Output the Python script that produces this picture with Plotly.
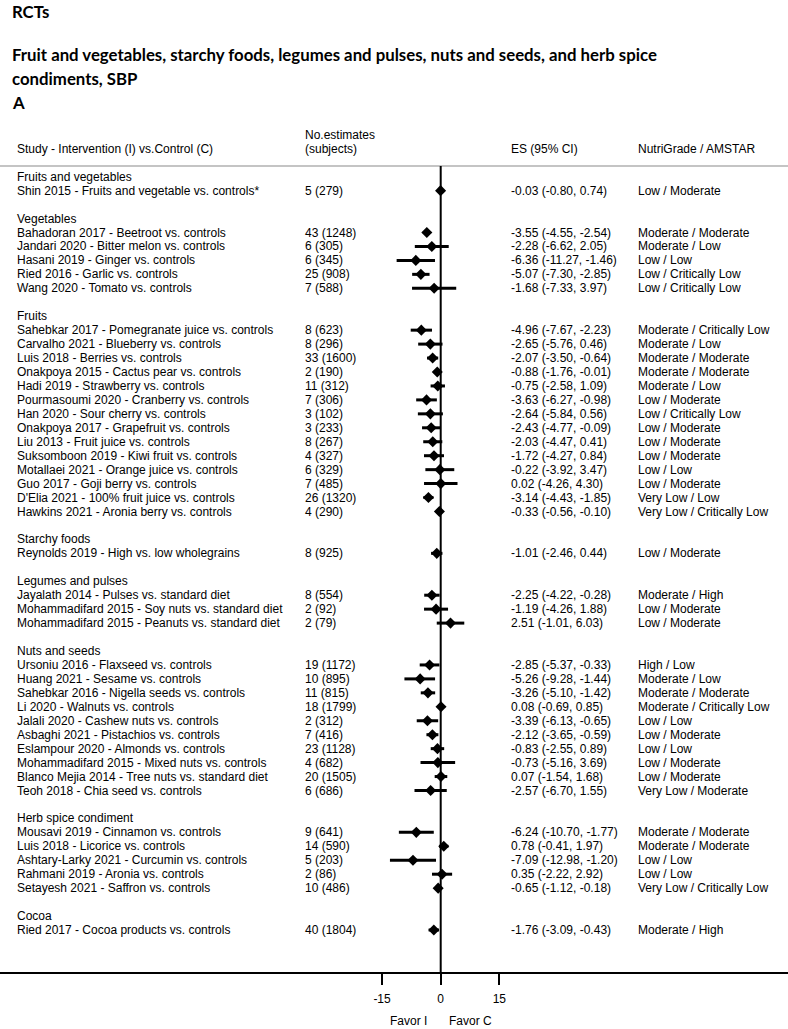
import plotly.graph_objects as go

# groups and how many studies each holds
groups = ["Fruits and vegetables", "Vegetables", "Fruits", "Starchy foods",
          "Legumes and pulses", "Nuts and seeds", "Herb spice condiment", "Cocoa"]
group_sizes = [1, 5, 14, 1, 3, 10, 5, 1]

studies = [
    "Shin 2015 - Fruits and vegetable vs. controls*",
    "Bahadoran 2017 - Beetroot vs. controls",
    "Jandari 2020 - Bitter melon vs. controls",
    "Hasani 2019 - Ginger vs. controls",
    "Ried 2016 - Garlic vs. controls",
    "Wang 2020 - Tomato vs. controls",
    "Sahebkar 2017 - Pomegranate juice vs. controls",
    "Carvalho 2021 - Blueberry vs. controls",
    "Luis 2018 - Berries vs. controls",
    "Onakpoya 2015 - Cactus pear vs. controls",
    "Hadi 2019 - Strawberry vs. controls",
    "Pourmasoumi 2020 - Cranberry vs. controls",
    "Han 2020 - Sour cherry vs. controls",
    "Onakpoya 2017 - Grapefruit vs. controls",
    "Liu 2013 - Fruit juice vs. controls",
    "Suksomboon 2019 - Kiwi fruit vs. controls",
    "Motallaei 2021 - Orange juice vs. controls",
    "Guo 2017 - Goji berry vs. controls",
    "D'Elia 2021 - 100% fruit juice vs. controls",
    "Hawkins 2021 - Aronia berry vs. controls",
    "Reynolds 2019 - High vs. low wholegrains",
    "Jayalath 2014 - Pulses vs. standard diet",
    "Mohammadifard 2015 - Soy nuts vs. standard diet",
    "Mohammadifard 2015 - Peanuts vs. standard diet",
    "Ursoniu 2016 - Flaxseed vs. controls",
    "Huang 2021 - Sesame vs. controls",
    "Sahebkar 2016 - Nigella seeds vs. controls",
    "Li 2020 - Walnuts vs. controls",
    "Jalali 2020 - Cashew nuts vs. controls",
    "Asbaghi 2021 - Pistachios vs. controls",
    "Eslampour 2020 - Almonds vs. controls",
    "Mohammadifard 2015 - Mixed nuts vs. controls",
    "Blanco Mejia 2014 - Tree nuts vs. standard diet",
    "Teoh 2018 - Chia seed vs. controls",
    "Mousavi 2019 - Cinnamon vs. controls",
    "Luis 2018 - Licorice vs. controls",
    "Ashtary-Larky 2021 - Curcumin vs. controls",
    "Rahmani 2019 - Aronia vs. controls",
    "Setayesh 2021 - Saffron vs. controls",
    "Ried 2017 - Cocoa products vs. controls",
]

n_est = [5, 43, 6, 6, 25, 7, 8, 8, 33, 2, 11, 7, 3, 3, 8, 4, 6, 7, 26, 4,
         8, 8, 2, 2, 19, 10, 11, 18, 2, 7, 23, 4, 20, 6, 9, 14, 5, 2, 10, 40]
n_subj = [279, 1248, 305, 345, 908, 588, 623, 296, 1600, 190, 312, 306, 102, 233, 267,
          327, 329, 485, 1320, 290, 925, 554, 92, 79, 1172, 895, 815, 1799, 312, 416,
          1128, 682, 1505, 686, 641, 590, 203, 86, 486, 1804]

es = [-0.03, -3.55, -2.28, -6.36, -5.07, -1.68, -4.96, -2.65, -2.07, -0.88, -0.75, -3.63,
      -2.64, -2.43, -2.03, -1.72, -0.22, 0.02, -3.14, -0.33, -1.01, -2.25, -1.19, 2.51,
      -2.85, -5.26, -3.26, 0.08, -3.39, -2.12, -0.83, -0.73, 0.07, -2.57, -6.24, 0.78,
      -7.09, 0.35, -0.65, -1.76]
ci_lo = [-0.80, -4.55, -6.62, -11.27, -7.30, -7.33, -7.67, -5.76, -3.50, -1.76, -2.58, -6.27,
         -5.84, -4.77, -4.47, -4.27, -3.92, -4.26, -4.43, -0.56, -2.46, -4.22, -4.26, -1.01,
         -5.37, -9.28, -5.10, -0.69, -6.13, -3.65, -2.55, -5.16, -1.54, -6.70, -10.70, -0.41,
         -12.98, -2.22, -1.12, -3.09]
ci_hi = [0.74, -2.54, 2.05, -1.46, -2.85, 3.97, -2.23, 0.46, -0.64, -0.01, 1.09, -0.98,
         0.56, -0.09, 0.41, 0.84, 3.47, 4.30, -1.85, -0.10, 0.44, -0.28, 1.88, 6.03,
         -0.33, -1.44, -1.42, 0.85, -0.65, -0.59, 0.89, 3.69, 1.68, 1.55, -1.77, 1.97,
         -1.20, 2.92, -0.18, -0.43]

grade = ["Low / Moderate",
         "Moderate / Moderate", "Moderate / Low", "Low / Low", "Low / Critically Low",
         "Low / Critically Low",
         "Moderate / Critically Low", "Moderate / Low", "Moderate / Moderate",
         "Moderate / Moderate", "Moderate / Low", "Low / Moderate", "Low / Critically Low",
         "Low / Moderate", "Low / Moderate", "Low / Moderate", "Low / Low", "Low / Moderate",
         "Very Low / Low", "Very Low / Critically Low",
         "Low / Moderate",
         "Moderate / High", "Low / Moderate", "Low / Moderate",
         "High / Low", "Moderate / Low", "Moderate / Moderate", "Moderate / Critically Low",
         "Low / Low", "Low / Moderate", "Low / Low", "Low / Moderate", "Low / Moderate",
         "Very Low / Moderate",
         "Moderate / Moderate", "Moderate / Moderate", "Low / Low", "Low / Low",
         "Very Low / Critically Low",
         "Moderate / High"]

x_ticks = [-15, 0, 15]
x_tick_text = ["-15", "0", "15"]

# page geometry in pixels (body margin is removed below)
W, H = 788, 1029
PLOT_TOP, PLOT_BOT = 166, 972
ROW0, ROW_H = 176.7, 13.95
ZERO_PX, PX_UNIT = 440.7, 3.91
FONT = "Arial, Liberation Sans, sans-serif"
TITLE_FONT = "Lato, sans-serif"


def px_x(px):
    return px / W


def px_y(py):
    return (PLOT_BOT - py) / (PLOT_BOT - PLOT_TOP)


# row index for every group header and study
header_rows, rows = [], []
r = 0
for g, n in zip(groups, group_sizes):
    header_rows.append(r)
    r += 1
    for j in range(n):
        rows.append(r)
        r += 1
    r += 1

ci_x, ci_y = [], []
for lo, hi, row in zip(ci_lo, ci_hi, rows):
    ci_x += [lo, hi, None]
    ci_y += [row, row, None]

fig = go.Figure()
fig.add_trace(go.Scatter(x=ci_x, y=ci_y, mode="lines",
                         line=dict(color="black", width=3), hoverinfo="skip"))
fig.add_trace(go.Scatter(x=es, y=rows, mode="markers",
                         marker=dict(symbol="diamond", size=8.5, color="black")))

annotations = []


def txt(x, y, text, yref="y", size=12, family=FONT, bold=False, anchor="left"):
    if bold:
        text = "<b>" + text + "</b>"
    annotations.append(dict(x=x, y=y, xref="paper", yref=yref, text=text,
                            showarrow=False, xanchor=anchor, yanchor="middle",
                            font=dict(size=size, family=family, color="black")))


for g, row in zip(groups, header_rows):
    txt(px_x(15), row, g)

for i, row in enumerate(rows):
    txt(px_x(15), row, studies[i])
    txt(px_x(303), row, f"{n_est[i]} ({n_subj[i]})")
    txt(px_x(509), row, f"{es[i]:.2f} ({ci_lo[i]:.2f}, {ci_hi[i]:.2f})")
    txt(px_x(636), row, grade[i])

# column headers
txt(px_x(15), px_y(149), "Study - Intervention (I) vs.Control (C)", yref="paper")
txt(px_x(303), px_y(135), "No.estimates", yref="paper")
txt(px_x(303), px_y(149), "(subjects)", yref="paper")
txt(px_x(509), px_y(149), "ES (95% CI)", yref="paper")
txt(px_x(636), px_y(149), "NutriGrade / AMSTAR", yref="paper")

# titles
TS = 16.8
txt(px_x(10), px_y(11), "RCTs", yref="paper", size=TS, family=TITLE_FONT, bold=True)
txt(px_x(10), px_y(54), "Fruit and vegetables, starchy foods, legumes and pulses, nuts and seeds, and herb spice",
    yref="paper", size=TS, family=TITLE_FONT, bold=True)
txt(px_x(10), px_y(79), "condiments, SBP", yref="paper", size=TS, family=TITLE_FONT, bold=True)
txt(px_x(10), px_y(103), "A", yref="paper", size=TS, family=TITLE_FONT, bold=True)

# favour labels
txt(px_x(429), px_y(1021), "Favor I", yref="paper", anchor="right")
txt(px_x(447), px_y(1021), "Favor C", yref="paper")

shapes = [
    dict(type="line", xref="paper", yref="paper", x0=0, x1=1, y0=1, y1=1,
         line=dict(color="#c4c4c4", width=2)),
    dict(type="line", xref="x", yref="paper", x0=0, x1=0, y0=0, y1=1,
         line=dict(color="black", width=2)),
]

fig.update_layout(
    width=W, height=H,
    margin=dict(l=0, r=0, t=PLOT_TOP, b=H - PLOT_BOT),
    plot_bgcolor="white", paper_bgcolor="white",
    showlegend=False,
    annotations=annotations,
    shapes=shapes,
    font=dict(family=FONT, size=12, color="black"),
    xaxis=dict(range=[-ZERO_PX / PX_UNIT, (W - ZERO_PX) / PX_UNIT],
               showgrid=False, zeroline=False,
               showline=True, linecolor="black", linewidth=2,
               ticks="outside", ticklen=11, tickwidth=2, tickcolor="black",
               tickvals=x_ticks, ticktext=x_tick_text, ticklabelstandoff=4,
               tickfont=dict(size=12, family=FONT, color="black")),
    yaxis=dict(range=[(PLOT_BOT - ROW0) / ROW_H, (PLOT_TOP - ROW0) / ROW_H],
               showgrid=False, zeroline=False, showticklabels=False, showline=False),
)

fig.write_html("out.html", config={"displayModeBar": False},
               post_script="document.body.style.margin = '0px';")
